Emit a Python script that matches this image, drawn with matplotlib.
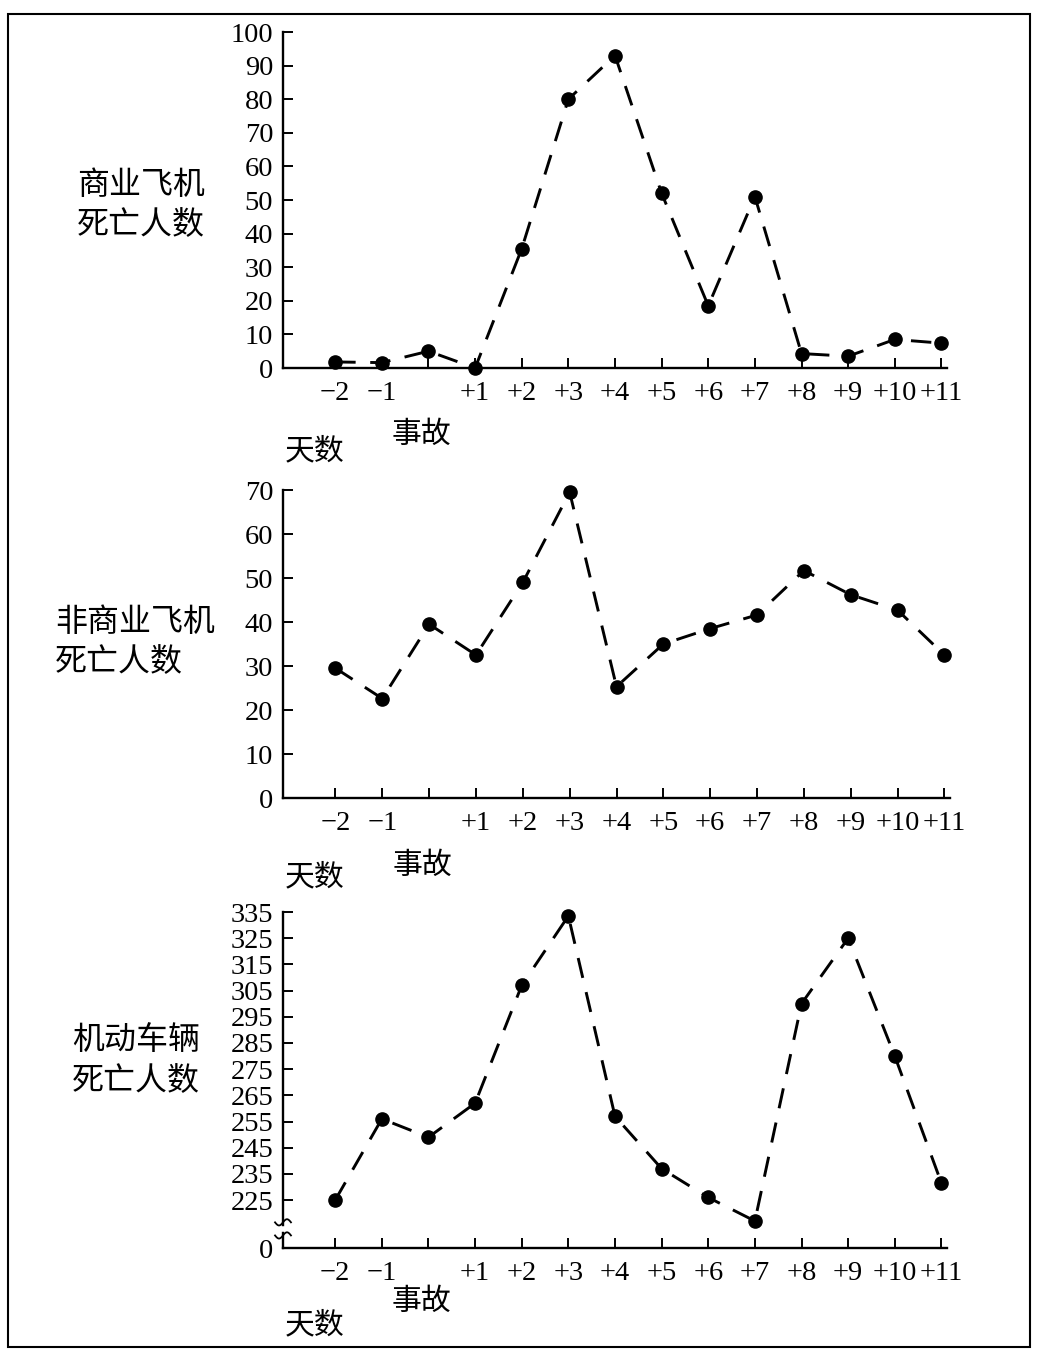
import numpy as np
import matplotlib
matplotlib.use("Agg")
import matplotlib.pyplot as plt
import matplotlib.transforms as mtransforms
from matplotlib.patches import Rectangle

plt.rcParams['font.family'] = ['Liberation Serif', 'Noto Sans CJK SC']
plt.rcParams['axes.unicode_minus'] = False

# days relative to the accident (0 = accident day, label drawn separately)
day_pos = [-2, -1, 0, 1, 2, 3, 4, 5, 6, 7, 8, 9, 10, 11]
day_labels = ["−2", "−1", "", "+1", "+2", "+3", "+4", "+5", "+6", "+7",
              "+8", "+9", "+10", "+11"]

commercial = [1.8, 1.6, 5, 0, 35.5, 80, 93, 52, 18.5, 51, 4.3, 3.5, 8.5, 7.4]
noncommercial = [29.5, 22.6, 39.5, 32.5, 49, 69.5, 25.3, 35, 38.5, 41.6,
                 51.7, 46.2, 42.7, 32.5]
motor = [225, 256, 249, 262, 307, 333.5, 257, 237, 226, 217, 300, 325, 280,
         231.5]

top_ticks = list(range(0, 101, 10))
mid_ticks = list(range(0, 71, 10))
bot_ticks = list(range(225, 336, 10))
bot_floor = 206.7   # where the broken axis puts "0"

W, H = 1041, 1359
fig = plt.figure(figsize=(W / 100, H / 100), dpi=100)


def px_axes(left, top, right, bottom):
    return fig.add_axes([left / W, 1 - bottom / H, (right - left) / W,
                         (bottom - top) / H])


def style(ax, vals, yticks, ylim, acc_off, days_off):
    ax.plot(day_pos, vals, color='black', lw=2.1, ls=(0, (7, 5)),
            marker='o', ms=9.5, clip_on=False)
    for s in ('top', 'right'):
        ax.spines[s].set_visible(False)
    for s in ('left', 'bottom'):
        ax.spines[s].set_linewidth(1.7)
    ax.set_xlim(-3.12, 11.12)
    ax.set_ylim(*ylim)
    ax.set_xticks(day_pos)
    ax.set_xticklabels(day_labels)
    ax.set_yticks(yticks)
    ax.tick_params(direction='in', length=7, width=1.4, labelsize=20.5)
    ax.tick_params(axis='x', pad=9)
    ax.tick_params(axis='y', pad=7)
    trans = mtransforms.blended_transform_factory(ax.transData, ax.transAxes)
    ax.annotate("事故", xy=(-0.15, 0), xycoords=trans, xytext=(0, -acc_off),
                textcoords='offset pixels', ha='center', va='center',
                fontsize=21.5)
    ax.annotate("天数", xy=(-2.45, 0), xycoords=trans, xytext=(0, -days_off),
                textcoords='offset pixels', ha='center', va='center',
                fontsize=21.5)


ax1 = px_axes(283, 32, 947, 368)
style(ax1, commercial, top_ticks, (0, 100), 67, 84)

ax2 = px_axes(283, 490, 950, 798)
style(ax2, noncommercial, mid_ticks, (0, 70), 68, 80)

ax3 = px_axes(283, 912, 947, 1248)
style(ax3, motor, bot_ticks, (bot_floor, 335), 54, 78)
ax3.set_yticks([bot_floor] + bot_ticks)
ax3.set_yticklabels(["0"] + [str(t) for t in bot_ticks])

# axis break marks on the motor vehicle panel
btrans = mtransforms.blended_transform_factory(ax3.transAxes, ax3.transData)
ax3.plot([-0.004, 0.004], [214, 214], color='white', lw=4, transform=btrans,
         clip_on=False, zorder=4)
wx = np.linspace(-0.012, 0.012, 20)
for yb in (211.5, 216.5):
    ax3.plot(wx, yb + 1.2 * np.sin(wx / 0.012 * np.pi), color='black', lw=1.3,
             transform=btrans, clip_on=False, zorder=5)

fig.text(141 / W, 1 - 206 / H, "商业飞机\n死亡人数", ha='center', va='center',
         fontsize=23, linespacing=1.45)
fig.text(55 / W, 1 - 643 / H, "非商业飞机\n死亡人数", ha='left', va='center',
         fontsize=23, linespacing=1.45)
fig.text(136 / W, 1 - 1062 / H, "机动车辆\n死亡人数", ha='center', va='center',
         fontsize=23, linespacing=1.45)

fig.add_artist(Rectangle((8 / W, 1 - 1347 / H), 1022 / W, 1333 / H,
                         transform=fig.transFigure, fill=False,
                         edgecolor='black', lw=1.5))

fig.savefig("out.png", dpi=100)
